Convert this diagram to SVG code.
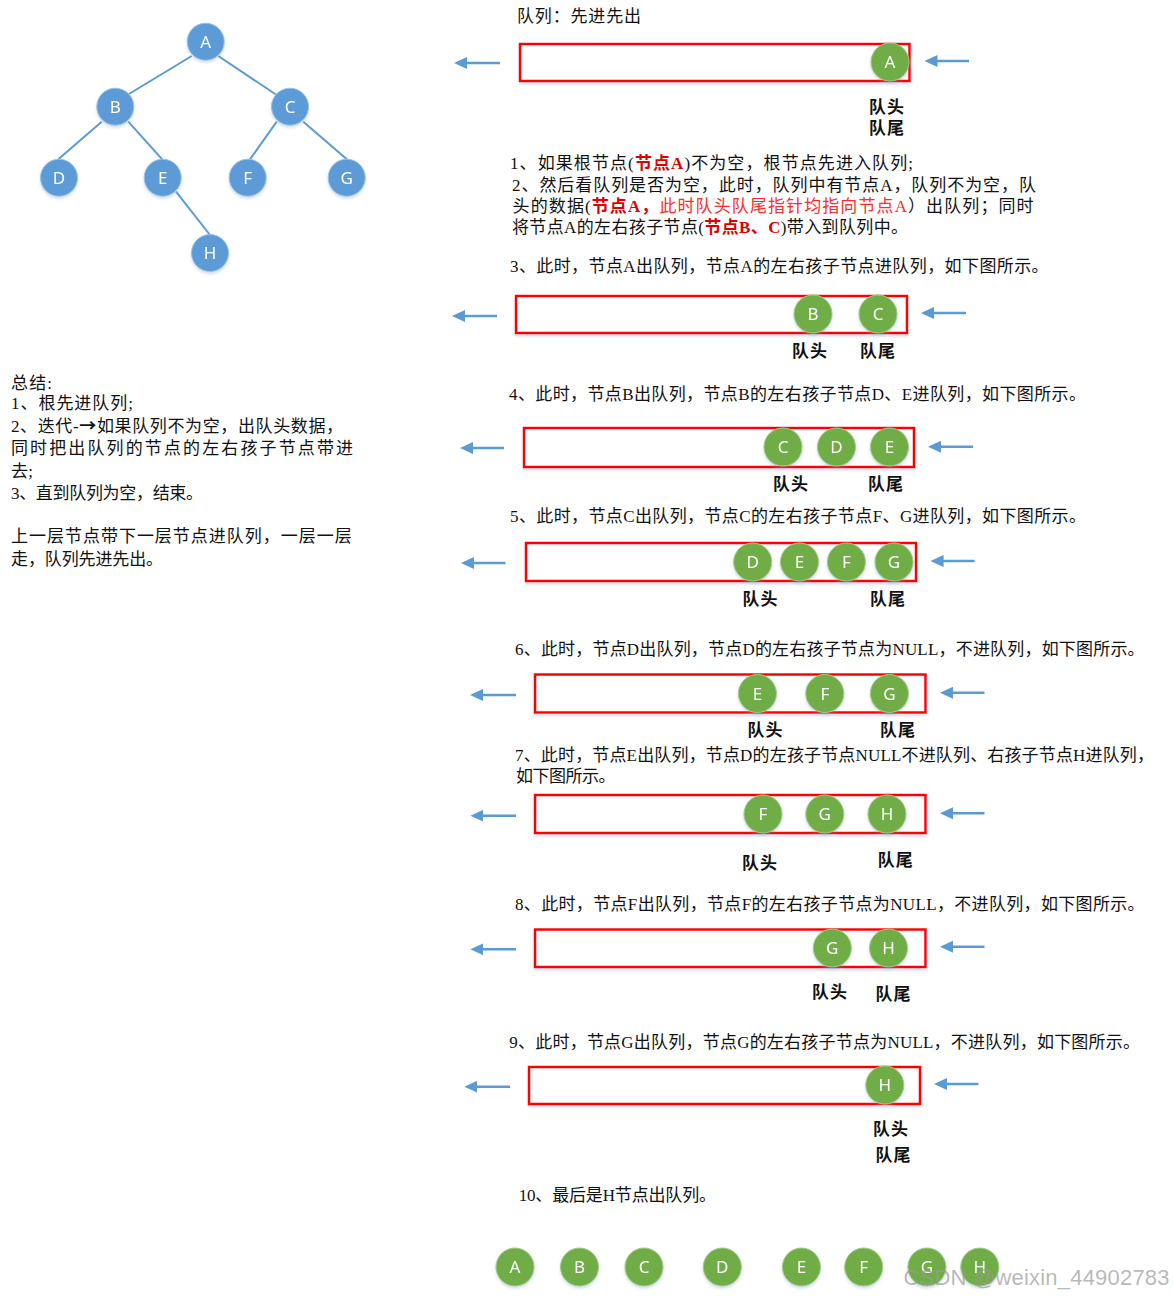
<svg xmlns="http://www.w3.org/2000/svg" width="1173" height="1297" viewBox="0 0 1173 1297">
<defs>
<style>
.t{font-family:"Liberation Serif","Noto Sans CJK SC",serif;font-size:17px;fill:#111}
.lb{font-family:"Liberation Serif","Noto Sans CJK SC",serif;font-size:17px;font-weight:bold;fill:#111}
.rb{fill:#e00000;font-weight:bold}
.rn{fill:#ff2a2a}
.ar{font-family:"Noto Sans CJK SC","DejaVu Sans",sans-serif;font-weight:bold}
.q{fill:#fff;stroke:#ff0000;stroke-width:2.5}
.bn{fill:#5B9BD5;stroke:#9cc2e6;stroke-width:1}
.gn{fill:#70AD47;stroke:#a3c98a;stroke-width:1}
.nt{font-family:"Noto Sans","Open Sans",sans-serif;font-size:17px;fill:#fff;text-anchor:middle}
.edge{stroke:#5B9BD5;stroke-width:2;fill:none}
.arr{stroke:#5B9BD5;stroke-width:2.5;fill:none;marker-end:url(#ah)}
.wm{font-family:"Liberation Sans",sans-serif;font-size:22px;fill:#9a9a9a;fill-opacity:0.7}
</style>
<marker id="ah" viewBox="0 0 13 12" markerWidth="13" markerHeight="12" refX="5" refY="6" orient="auto" markerUnits="userSpaceOnUse">
<path d="M0,0 L13,6 L0,12 z" fill="#5B9BD5"/>
</marker>
<filter id="sh" x="-30%" y="-30%" width="160%" height="170%">
<feDropShadow dx="0" dy="2" stdDeviation="1.8" flood-color="#7a9cc8" flood-opacity="0.35"/>
</filter>
</defs>

<!-- connectors -->
<g id="connectors">
<line class="edge" x1="191.7" y1="56" x2="129" y2="94"/>
<line class="edge" x1="218.3" y1="56" x2="276.7" y2="95"/>
<line class="edge" x1="101.7" y1="121.7" x2="58.3" y2="159.3"/>
<line class="edge" x1="128.3" y1="121.7" x2="163.3" y2="160.7"/>
<line class="edge" x1="276.7" y1="121.7" x2="248.3" y2="161.7"/>
<line class="edge" x1="303.3" y1="121.7" x2="347.7" y2="160"/>
<line class="edge" x1="176" y1="191.7" x2="210" y2="235"/>
<line class="arr" x1="500" y1="63" x2="462" y2="63"/>
<line class="arr" x1="969" y1="61" x2="932.5" y2="61"/>
<line class="arr" x1="497" y1="316" x2="460" y2="316"/>
<line class="arr" x1="966" y1="313" x2="929" y2="313"/>
<line class="arr" x1="504" y1="448" x2="468" y2="448"/>
<line class="arr" x1="973" y1="446.7" x2="936" y2="446.7"/>
<line class="arr" x1="505.5" y1="563" x2="469" y2="563"/>
<line class="arr" x1="974.6" y1="561" x2="938.6" y2="561"/>
<line class="arr" x1="516" y1="695" x2="478" y2="695"/>
<line class="arr" x1="984.5" y1="692.7" x2="948" y2="692.7"/>
<line class="arr" x1="516" y1="815.7" x2="478.4" y2="815.7"/>
<line class="arr" x1="984.5" y1="813.3" x2="948" y2="813.3"/>
<line class="arr" x1="516" y1="949.3" x2="478.4" y2="949.3"/>
<line class="arr" x1="984.5" y1="946.7" x2="948" y2="946.7"/>
<line class="arr" x1="510" y1="1086.7" x2="472.3" y2="1086.7"/>
<line class="arr" x1="978.4" y1="1084" x2="942" y2="1084"/>
</g>

<!-- tree nodes -->
<g id="tree-A" filter="url(#sh)"><circle class="bn" cx="205.7" cy="41.7" r="18.5"/><text class="nt" x="205.7" y="47.5">A</text></g>
<g id="tree-B" filter="url(#sh)"><circle class="bn" cx="115.3" cy="106.7" r="18.5"/><text class="nt" x="115.3" y="112.5">B</text></g>
<g id="tree-C" filter="url(#sh)"><circle class="bn" cx="290" cy="106.7" r="18.5"/><text class="nt" x="290" y="112.5">C</text></g>
<g id="tree-D" filter="url(#sh)"><circle class="bn" cx="59" cy="177.7" r="18.5"/><text class="nt" x="59" y="183.5">D</text></g>
<g id="tree-E" filter="url(#sh)"><circle class="bn" cx="162.7" cy="177.7" r="18.5"/><text class="nt" x="162.7" y="183.5">E</text></g>
<g id="tree-F" filter="url(#sh)"><circle class="bn" cx="247.7" cy="177.7" r="18.5"/><text class="nt" x="247.7" y="183.5">F</text></g>
<g id="tree-G" filter="url(#sh)"><circle class="bn" cx="346.7" cy="177.7" r="18.5"/><text class="nt" x="346.7" y="183.5">G</text></g>
<g id="tree-H" filter="url(#sh)"><circle class="bn" cx="210" cy="253" r="18.5"/><text class="nt" x="210" y="258.8">H</text></g>

<!-- summary -->
<g id="summary">
<text class="t" x="11" y="389" textLength="41">总结:</text>
<text class="t" x="11" y="409" textLength="122">1、根先进队列;</text>
<text class="t" x="11" y="432" textLength="332">2、迭代-<tspan class="ar">→</tspan>如果队列不为空，出队头数据，</text>
<text class="t" x="11" y="454" textLength="342">同时把出队列的节点的左右孩子节点带进</text>
<text class="t" x="11" y="477" textLength="22">去;</text>
<text class="t" x="11" y="499" textLength="192">3、直到队列为空，结束。</text>
<text class="t" x="11" y="542" textLength="340.7">上一层节点带下一层节点进队列，一层一层</text>
<text class="t" x="11" y="565" textLength="152">走，队列先进先出。</text>
</g>

<!-- right texts -->
<g id="texts">
<text class="t" x="517" y="22" textLength="124">队列：先进先出</text>
<text class="t" x="510" y="169" textLength="403">1、如果根节点(<tspan class="rb">节点A</tspan>)不为空，根节点先进入队列;</text>
<text class="t" x="512" y="191" textLength="524">2、然后看队列是否为空，此时，队列中有节点A，队列不为空，队</text>
<text class="t" x="512.6" y="212" textLength="521">头的数据(<tspan class="rb">节点A，</tspan><tspan class="rn">此时队头队尾指针均指向节点A</tspan>）出队列；同时</text>
<text class="t" x="512" y="233" textLength="396">将节点A的左右孩子节点(<tspan class="rb">节点B、C</tspan>)带入到队列中。</text>
<text class="t" x="510" y="272" textLength="538.6">3、此时，节点A出队列，节点A的左右孩子节点进队列，如下图所示。</text>
<text class="t" x="509" y="400" textLength="577">4、此时，节点B出队列，节点B的左右孩子节点D、E进队列，如下图所示。</text>
<text class="t" x="510" y="522" textLength="576">5、此时，节点C出队列，节点C的左右孩子节点F、G进队列，如下图所示。</text>
<text class="t" x="515" y="655" textLength="629.6">6、此时，节点D出队列，节点D的左右孩子节点为NULL，不进队列，如下图所示。</text>
<text class="t" x="515" y="761" textLength="639">7、此时，节点E出队列，节点D的左孩子节点NULL不进队列、右孩子节点H进队列，</text>
<text class="t" x="516" y="782" textLength="99.6">如下图所示。</text>
<text class="t" x="515" y="910" textLength="629.6">8、此时，节点F出队列，节点F的左右孩子节点为NULL，不进队列，如下图所示。</text>
<text class="t" x="509.3" y="1048" textLength="630.7">9、此时，节点G出队列，节点G的左右孩子节点为NULL，不进队列，如下图所示。</text>
<text class="t" x="518.7" y="1201" textLength="197.3">10、最后是H节点出队列。</text>
</g>

<!-- queues -->
<g id="queue-1">
<rect class="q" x="520" y="44" width="389.5" height="37" filter="url(#sh)"/>
<g id="q1-A" filter="url(#sh)"><circle class="gn" cx="890" cy="62" r="19"/><text class="nt" x="890" y="68">A</text></g>
<text class="lb" x="869" y="113" textLength="35">队头</text>
<text class="lb" x="869" y="134" textLength="35">队尾</text>
</g>

<g id="queue-2">
<rect class="q" x="516" y="296" width="391" height="37" filter="url(#sh)"/>
<g id="q2-B" filter="url(#sh)"><circle class="gn" cx="813" cy="314" r="19"/><text class="nt" x="813" y="320">B</text></g>
<g id="q2-C" filter="url(#sh)"><circle class="gn" cx="878" cy="314" r="19"/><text class="nt" x="878" y="320">C</text></g>
<text class="lb" x="792" y="357" textLength="35">队头</text>
<text class="lb" x="860" y="357" textLength="35">队尾</text>
</g>

<g id="queue-3">
<rect class="q" x="524" y="428" width="390" height="39" filter="url(#sh)"/>
<g id="q3-C" filter="url(#sh)"><circle class="gn" cx="783" cy="447" r="19"/><text class="nt" x="783" y="453">C</text></g>
<g id="q3-D" filter="url(#sh)"><circle class="gn" cx="836.5" cy="447" r="19"/><text class="nt" x="836.5" y="453">D</text></g>
<g id="q3-E" filter="url(#sh)"><circle class="gn" cx="889.5" cy="447" r="19"/><text class="nt" x="889.5" y="453">E</text></g>
<text class="lb" x="773" y="490" textLength="35">队头</text>
<text class="lb" x="868" y="490" textLength="35">队尾</text>
</g>

<g id="queue-4">
<rect class="q" x="526" y="543" width="390" height="38" filter="url(#sh)"/>
<g id="q4-D" filter="url(#sh)"><circle class="gn" cx="752.7" cy="562" r="19"/><text class="nt" x="752.7" y="568">D</text></g>
<g id="q4-E" filter="url(#sh)"><circle class="gn" cx="799.5" cy="562" r="19"/><text class="nt" x="799.5" y="568">E</text></g>
<g id="q4-F" filter="url(#sh)"><circle class="gn" cx="846.4" cy="562" r="19"/><text class="nt" x="846.4" y="568">F</text></g>
<g id="q4-G" filter="url(#sh)"><circle class="gn" cx="894" cy="562" r="19"/><text class="nt" x="894" y="568">G</text></g>
<text class="lb" x="742.4" y="605" textLength="35">队头</text>
<text class="lb" x="870" y="605" textLength="35">队尾</text>
</g>

<g id="queue-5">
<rect class="q" x="535" y="674.5" width="390.5" height="38" filter="url(#sh)"/>
<g id="q5-E" filter="url(#sh)"><circle class="gn" cx="757.4" cy="693.5" r="19"/><text class="nt" x="757.4" y="699.5">E</text></g>
<g id="q5-F" filter="url(#sh)"><circle class="gn" cx="824.8" cy="693.5" r="19"/><text class="nt" x="824.8" y="699.5">F</text></g>
<g id="q5-G" filter="url(#sh)"><circle class="gn" cx="889.4" cy="693.5" r="19"/><text class="nt" x="889.4" y="699.5">G</text></g>
<text class="lb" x="747.6" y="736" textLength="35">队头</text>
<text class="lb" x="880" y="736" textLength="35">队尾</text>
</g>

<g id="queue-6">
<rect class="q" x="535" y="795" width="390.5" height="38" filter="url(#sh)"/>
<g id="q6-F" filter="url(#sh)"><circle class="gn" cx="763" cy="814" r="19"/><text class="nt" x="763" y="820">F</text></g>
<g id="q6-G" filter="url(#sh)"><circle class="gn" cx="824.8" cy="814" r="19"/><text class="nt" x="824.8" y="820">G</text></g>
<g id="q6-H" filter="url(#sh)"><circle class="gn" cx="887" cy="814" r="19"/><text class="nt" x="887" y="820">H</text></g>
<text class="lb" x="742" y="869" textLength="35">队头</text>
<text class="lb" x="877.7" y="866" textLength="35">队尾</text>
</g>

<g id="queue-7">
<rect class="q" x="535" y="929.5" width="390.5" height="37.5" filter="url(#sh)"/>
<g id="q7-G" filter="url(#sh)"><circle class="gn" cx="832.3" cy="948" r="19"/><text class="nt" x="832.3" y="954">G</text></g>
<g id="q7-H" filter="url(#sh)"><circle class="gn" cx="888.5" cy="948" r="19"/><text class="nt" x="888.5" y="954">H</text></g>
<text class="lb" x="812" y="998" textLength="35">队头</text>
<text class="lb" x="875.4" y="1000" textLength="35">队尾</text>
</g>

<g id="queue-8">
<rect class="q" x="529" y="1067" width="391" height="37" filter="url(#sh)"/>
<g id="q8-H" filter="url(#sh)"><circle class="gn" cx="884.8" cy="1085" r="19"/><text class="nt" x="884.8" y="1091">H</text></g>
<text class="lb" x="873" y="1135" textLength="35">队头</text>
<text class="lb" x="875.4" y="1161" textLength="35">队尾</text>
</g>

<!-- final output order -->
<g id="out-A" filter="url(#sh)"><circle class="gn" cx="515" cy="1267" r="19"/><text class="nt" x="515" y="1273">A</text></g>
<g id="out-B" filter="url(#sh)"><circle class="gn" cx="579.5" cy="1267" r="19"/><text class="nt" x="579.5" y="1273">B</text></g>
<g id="out-C" filter="url(#sh)"><circle class="gn" cx="644" cy="1267" r="19"/><text class="nt" x="644" y="1273">C</text></g>
<g id="out-D" filter="url(#sh)"><circle class="gn" cx="722.3" cy="1267" r="19"/><text class="nt" x="722.3" y="1273">D</text></g>
<g id="out-E" filter="url(#sh)"><circle class="gn" cx="801.4" cy="1267" r="19"/><text class="nt" x="801.4" y="1273">E</text></g>
<g id="out-F" filter="url(#sh)"><circle class="gn" cx="863.7" cy="1267" r="19"/><text class="nt" x="863.7" y="1273">F</text></g>
<g id="out-G" filter="url(#sh)"><circle class="gn" cx="926.9" cy="1267" r="19"/><text class="nt" x="926.9" y="1273">G</text></g>
<g id="out-H" filter="url(#sh)"><circle class="gn" cx="979.8" cy="1267" r="19"/><text class="nt" x="979.8" y="1273">H</text></g>

<text class="wm" x="903.5" y="1285" textLength="266">CSDN @weixin_44902783</text>
</svg>
